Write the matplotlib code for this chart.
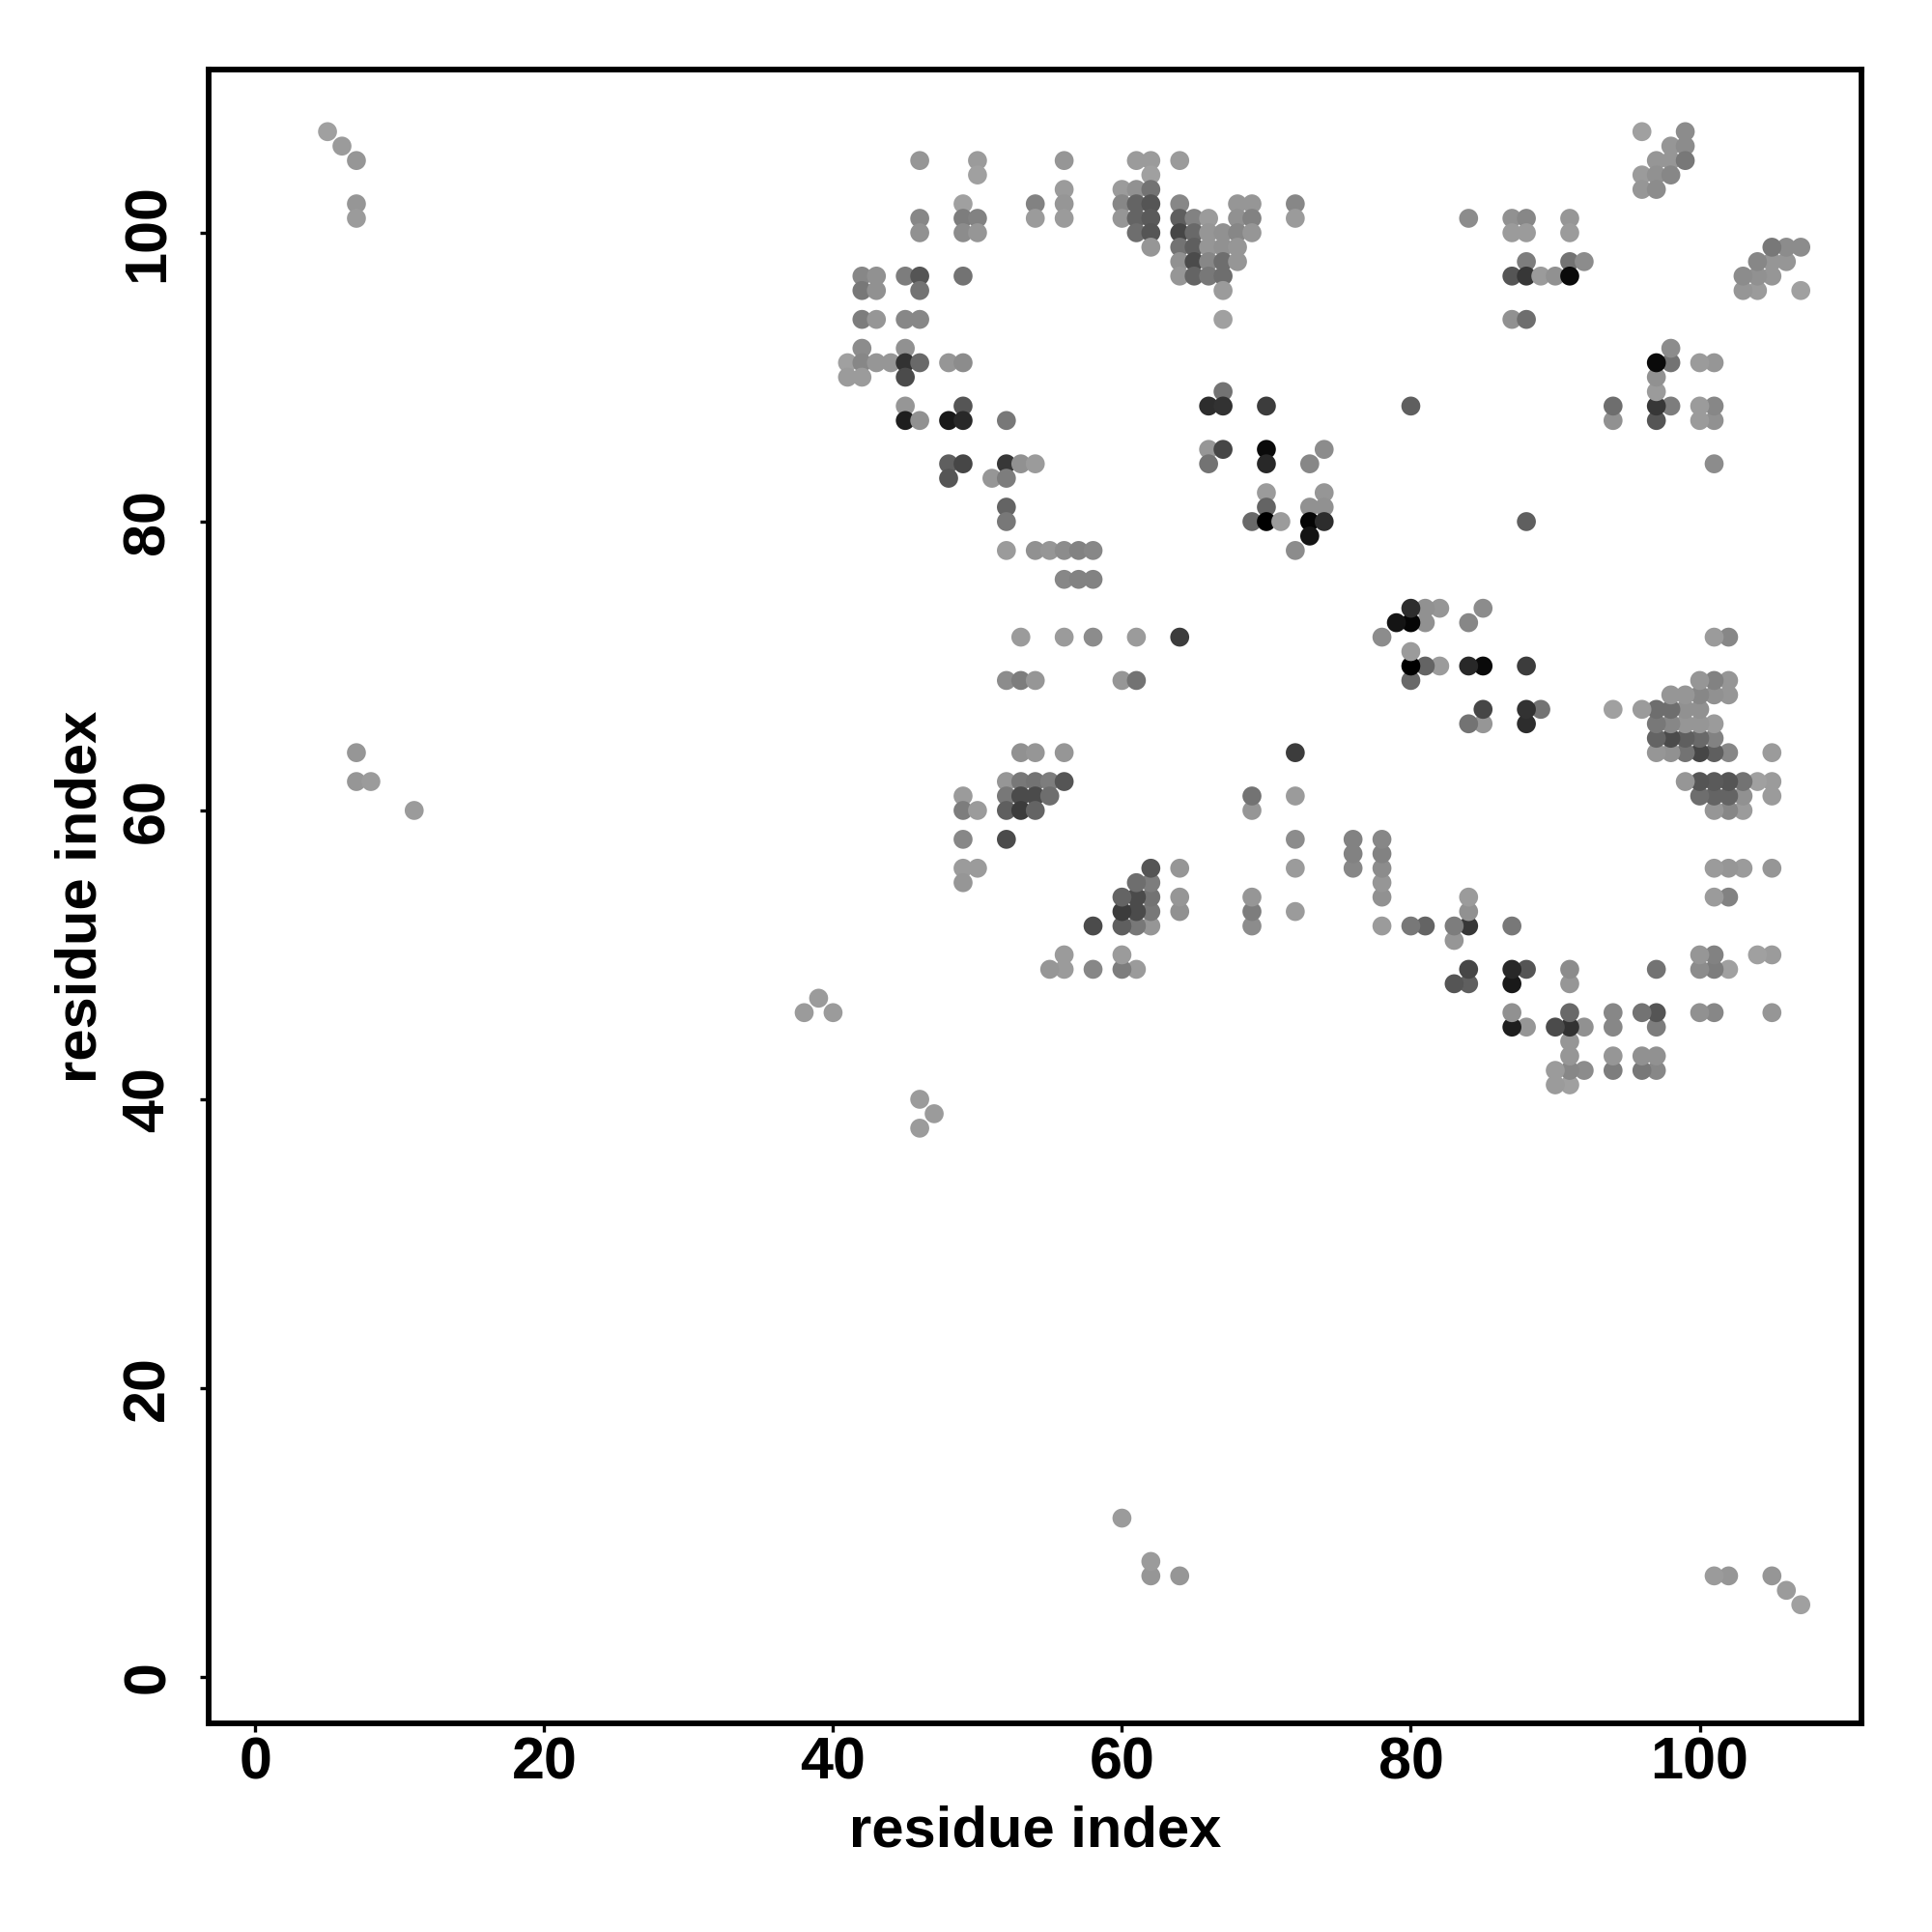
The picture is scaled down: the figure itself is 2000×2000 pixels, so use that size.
"""
residue contact map, symmetric about the diagonal
"""
import matplotlib
matplotlib.use('Agg')
import matplotlib.pyplot as plt

plt.rcParams['font.family'] = ['Liberation Sans', 'DejaVu Sans']

# contacts above the diagonal, one line per value of res_j
res_i = [
    5, 96, 99,
    6, 98, 99,
    7, 46, 50, 56, 61, 62, 64, 97, 98, 99,
    50, 62, 96, 97, 98,
    56, 60, 61, 62, 96, 97,
    7, 49, 54, 56, 60, 61, 62, 64, 68, 69, 72,
    7, 46, 49, 50, 54, 56, 60, 61, 62, 64, 65, 66, 68, 69, 72, 84, 87, 88, 91,
    46, 49, 50, 61, 62, 64, 65, 66, 67, 68, 69, 87, 88, 91,
    62, 64, 65, 66, 67, 68,
    64, 65, 66, 67, 68, 88, 91, 92,
    42, 43, 45, 46, 49, 64, 65, 66, 67, 87, 88, 89, 90, 91,
    42, 43, 46, 67,
    42, 43, 45, 46, 67, 87, 88,
    42, 45,
    41, 42, 43, 44, 45, 46, 48, 49,
    41, 42, 45,
    67,
    45, 49, 66, 67, 70, 80,
    45, 46, 48, 49, 52,
    66, 67, 70, 74,
    48, 49, 52, 53, 54, 66, 70, 73,
    48, 51, 52,
    70, 74,
    52, 70, 73, 74,
    52, 69, 70, 71, 73, 74,
    73,
    52, 54, 55, 56, 57, 58, 72,
    56, 57, 58,
    53, 56, 58, 61, 64,
    52, 53, 54, 60, 61,
    7, 53, 54, 56,
    7, 8, 52, 53, 54, 55, 56,
    49, 52, 53, 54, 55,
    11, 49, 50, 52, 53, 54,
    49, 52,
    49, 50,
    49,
    39,
    38, 40,
]
res_j = [
    107, 107, 107,
    106, 106, 106,
    105, 105, 105, 105, 105, 105, 105, 105, 105, 105,
    104, 104, 104, 104, 104,
    103, 103, 103, 103, 103, 103,
    102, 102, 102, 102, 102, 102, 102, 102, 102, 102, 102,
    101, 101, 101, 101, 101, 101, 101, 101, 101, 101, 101, 101, 101, 101, 101, 101, 101, 101, 101,
    100, 100, 100, 100, 100, 100, 100, 100, 100, 100, 100, 100, 100, 100,
    99, 99, 99, 99, 99, 99,
    98, 98, 98, 98, 98, 98, 98, 98,
    97, 97, 97, 97, 97, 97, 97, 97, 97, 97, 97, 97, 97, 97,
    96, 96, 96, 96,
    94, 94, 94, 94, 94, 94, 94,
    92, 92,
    91, 91, 91, 91, 91, 91, 91, 91,
    90, 90, 90,
    89,
    88, 88, 88, 88, 88, 88,
    87, 87, 87, 87, 87,
    85, 85, 85, 85,
    84, 84, 84, 84, 84, 84, 84, 84,
    83, 83, 83,
    82, 82,
    81, 81, 81, 81,
    80, 80, 80, 80, 80, 80,
    79,
    78, 78, 78, 78, 78, 78, 78,
    76, 76, 76,
    72, 72, 72, 72, 72,
    69, 69, 69, 69, 69,
    64, 64, 64, 64,
    62, 62, 62, 62, 62, 62, 62,
    61, 61, 61, 61, 61,
    60, 60, 60, 60, 60, 60,
    58, 58,
    56, 56,
    55,
    47,
    46, 46,
]
shade = [
    160, 160, 140,
    155, 150, 140,
    150, 150, 155, 150, 155, 155, 155, 150, 150, 120,
    160, 160, 155, 145, 135,
    155, 155, 145, 115, 150, 140,
    150, 160, 130, 150, 135, 100, 85, 135, 150, 150, 135,
    155, 135, 125, 130, 155, 155, 150, 100, 90, 95, 130, 155, 145, 130, 155, 140, 145, 135, 150,
    145, 140, 150, 110, 85, 70, 105, 150, 145, 135, 150, 155, 155, 155,
    150, 115, 95, 150, 145, 150,
    145, 75, 135, 110, 150, 125, 115, 140,
    135, 145, 125, 85, 115, 150, 100, 120, 110, 85, 55, 155, 145, 10,
    120, 145, 115, 155,
    125, 150, 135, 135, 160, 145, 110,
    140, 145,
    160, 135, 150, 150, 50, 105, 150, 140,
    155, 155, 75,
    115,
    150, 85, 45, 50, 60, 95,
    30, 145, 25, 40, 120,
    150, 70, 10, 140,
    95, 70, 55, 145, 155, 115, 40, 135,
    85, 150, 125,
    155, 150,
    100, 100, 145, 145,
    120, 105, 0, 155, 5, 45,
    20,
    155, 145, 150, 140, 130, 135, 140,
    135, 130, 130,
    155, 155, 140, 155, 60,
    140, 125, 150, 150, 115,
    150, 145, 150, 150,
    150, 155, 150, 120, 115, 125, 85,
    155, 120, 75, 75, 110,
    155, 125, 155, 95, 60, 100,
    135, 75,
    155, 155,
    150,
    155,
    155, 155,
]

ticks = [0, 20, 40, 60, 80, 100]


def draw_contact_map():
    fig = plt.figure(figsize=[10, 10])
    ax = fig.add_axes([216 / 2000., 1 - 1784 / 2000., 1711 / 2000., 1712 / 2000.])

    colors = [(g / 255., g / 255., g / 255.) for g in shade + shade]
    ax.scatter(res_i + res_j, res_j + res_i, s=50, c=colors, linewidths=0, zorder=3)

    ax.set_xlim(-3.23, 111.2)
    ax.set_ylim(-3.21, 111.3)
    ax.set_xticks(ticks)
    ax.set_yticks(ticks)
    ax.tick_params(width=1.2, length=3.2, labelsize=22)
    ax.tick_params(axis='x', pad=1.6)
    ax.tick_params(axis='y', pad=8.8)
    for label in ax.get_xticklabels():
        label.set_fontweight('bold')
    for label in ax.get_yticklabels():
        label.set_fontweight('bold')
        label.set_rotation(90)
        label.set_va('center')

    for spine in ax.spines.values():
        spine.set_linewidth(2.1)

    ax.set_xlabel('residue index', fontsize=21.5, fontweight='bold', labelpad=5)
    ax.set_ylabel('residue index', fontsize=21.5, fontweight='bold', labelpad=5.2)

    plt.savefig('out.png', dpi=200)


draw_contact_map()
